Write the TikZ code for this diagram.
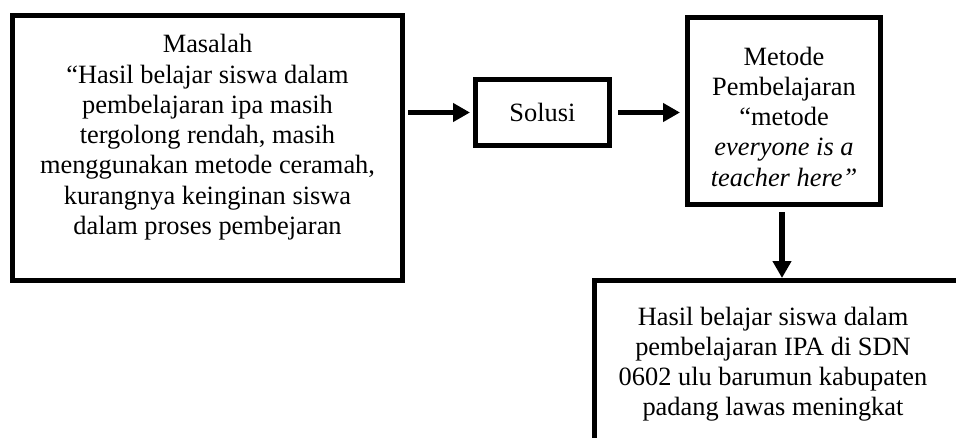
\documentclass[tikz,border=0pt]{standalone}
\usepackage{fontspec}
\setmainfont{Liberation Serif}
\usetikzlibrary{arrows.meta,calc}
\tikzset{
  boxnode/.style={draw, line width=5pt, inner sep=0pt, outer sep=0pt, align=center,
    font=\fontsize{26.4}{30.3}\selectfont},
  flow/.style={line width=5.5pt, -{Triangle[length=17pt,width=18pt]}},
}
\newcommand{\boxtxt}[4]{\parbox[c][#1][t]{#2}{\centering\vspace*{#3}\rule{0pt}{20pt}#4}}
\begin{document}
\begin{tikzpicture}[x=1pt,y=-1pt]
\useasboundingbox (0,0) rectangle (956,437);
\clip (0,0) rectangle (956,437);
\node[boxnode, minimum width=390pt, minimum height=265pt] (masalah) at (207.5,148)
  {\boxtxt{265pt}{380pt}{17.2pt}{Masalah\\“Hasil belajar siswa dalam\\pembelajaran ipa masih\\tergolong rendah, masih\\menggunakan metode ceramah,\\kurangnya keinginan siswa\\dalam proses pembejaran}};
\node[boxnode, minimum width=134pt, minimum height=66pt] (solusi) at (542.5,112.5) {Solusi};
\node[boxnode, minimum width=193pt, minimum height=187pt] (metode) at (784,111)
  {\boxtxt{187pt}{185pt}{27.5pt}{Metode\\Pembelajaran\\“metode\\\textit{everyone is a}\\\textit{teacher here”}}};
\node[boxnode, minimum width=366.5pt, minimum height=199.5pt] (hasil) at (777.75,380.25)
  {\boxtxt{199.5pt}{340pt}{24.5pt}{Hasil belajar siswa dalam\\pembelajaran IPA di SDN\\0602 ulu barumun kabupaten\\padang lawas meningkat}\hspace*{9.5pt}};
\draw[flow] ($(masalah.east |- solusi.west)+(5.5,0)$) -- ($(solusi.west)+(-5.5,0)$);
\draw[flow] ($(solusi.east)+(8.5,0)$) -- ($(metode.west |- solusi.east)+(-7.5,0)$);
\draw[flow] ($(metode.south)+(-2,7.5)$) -- ($(metode.south |- hasil.north)+(-2,-2.5)$);
\end{tikzpicture}
\end{document}
